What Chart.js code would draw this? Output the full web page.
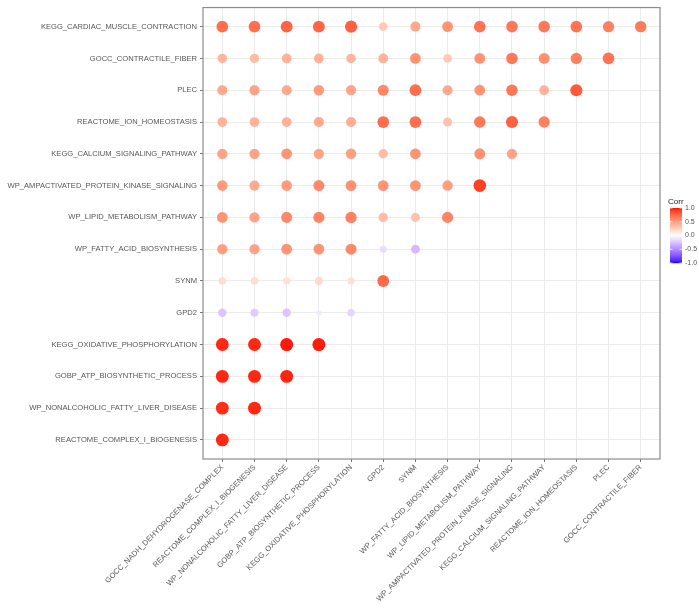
<!DOCTYPE html>
<html lang="en">

<head>
    <meta charset="UTF-8">
    <title>Correlation plot</title>
    <script src="https://cdn.jsdelivr.net/npm/chart.js"></script>
    <style>
        body {
            margin: 0;
            padding: 0;
            background-color: #fff;
        }

        canvas {
            display: block;
        }
    </style>
</head>

<body>
    <canvas id="corrChart" width="699" height="608"></canvas>

    <script>
        // columns, left to right
        const colLabels = [
            'GOCC_NADH_DEHYDROGENASE_COMPLEX',
            'REACTOME_COMPLEX_I_BIOGENESIS',
            'WP_NONALCOHOLIC_FATTY_LIVER_DISEASE',
            'GOBP_ATP_BIOSYNTHETIC_PROCESS',
            'KEGG_OXIDATIVE_PHOSPHORYLATION',
            'GPD2',
            'SYNM',
            'WP_FATTY_ACID_BIOSYNTHESIS',
            'WP_LIPID_METABOLISM_PATHWAY',
            'WP_AMPACTIVATED_PROTEIN_KINASE_SIGNALING',
            'KEGG_CALCIUM_SIGNALING_PATHWAY',
            'REACTOME_ION_HOMEOSTASIS',
            'PLEC',
            'GOCC_CONTRACTILE_FIBER'
        ];

        // rows, top to bottom
        const rowLabels = [
            'KEGG_CARDIAC_MUSCLE_CONTRACTION',
            'GOCC_CONTRACTILE_FIBER',
            'PLEC',
            'REACTOME_ION_HOMEOSTASIS',
            'KEGG_CALCIUM_SIGNALING_PATHWAY',
            'WP_AMPACTIVATED_PROTEIN_KINASE_SIGNALING',
            'WP_LIPID_METABOLISM_PATHWAY',
            'WP_FATTY_ACID_BIOSYNTHESIS',
            'SYNM',
            'GPD2',
            'KEGG_OXIDATIVE_PHOSPHORYLATION',
            'GOBP_ATP_BIOSYNTHETIC_PROCESS',
            'WP_NONALCOHOLIC_FATTY_LIVER_DISEASE',
            'REACTOME_COMPLEX_I_BIOGENESIS'
        ];

        // correlation values per row (same order as rowLabels)
        const cardiacRow = [0.72, 0.72, 0.76, 0.76, 0.78, 0.28, 0.45, 0.55, 0.70, 0.68, 0.68, 0.70, 0.64, 0.66];
        const contractileRow = [0.38, 0.35, 0.40, 0.40, 0.38, 0.40, 0.55, 0.28, 0.55, 0.68, 0.57, 0.64, 0.70];
        const plecRow = [0.45, 0.47, 0.45, 0.52, 0.47, 0.60, 0.72, 0.45, 0.55, 0.68, 0.40, 0.80];
        const ionRow = [0.40, 0.40, 0.40, 0.45, 0.42, 0.72, 0.72, 0.32, 0.68, 0.78, 0.64];
        const calciumRow = [0.48, 0.48, 0.55, 0.48, 0.50, 0.35, 0.55, null, 0.57, 0.48];
        const ampRow = [0.52, 0.45, 0.52, 0.60, 0.57, 0.55, 0.55, 0.50, 0.90];
        const lipidRow = [0.55, 0.48, 0.60, 0.62, 0.64, 0.35, 0.32, 0.62];
        const fattyRow = [0.50, 0.48, 0.55, 0.55, 0.60, -0.15, -0.30];
        const synmRow = [0.18, 0.18, 0.16, 0.20, 0.16, 0.74];
        const gpd2Row = [-0.25, -0.22, -0.25, -0.10, -0.18];
        const oxphosRow = [0.95, 0.95, 0.98, 0.97];
        const atpRow = [0.95, 0.95, 0.96];
        const nafldRow = [0.94, 0.95];
        const complexRow = [0.95];

        const corrRows = [cardiacRow, contractileRow, plecRow, ionRow, calciumRow, ampRow,
            lipidRow, fattyRow, synmRow, gpd2Row, oxphosRow, atpRow, nafldRow, complexRow];

        const legendTicks = [1.0, 0.5, 0.0, -0.5, -1.0];

        // colour helpers: blue - white - red interpolated in Lab, like ggplot's gradient2
        function toLin(c) {
            c /= 255;
            return c <= 0.04045 ? c / 12.92 : Math.pow((c + 0.055) / 1.055, 2.4);
        }

        function fromLin(c) {
            const v = c <= 0.0031308 ? c * 12.92 : 1.055 * Math.pow(c, 1 / 2.4) - 0.055;
            return Math.round(Math.min(1, Math.max(0, v)) * 255);
        }

        function rgbToLab(rgb) {
            const r = toLin(rgb[0]), g = toLin(rgb[1]), b = toLin(rgb[2]);
            let x = (r * 0.4124 + g * 0.3576 + b * 0.1805) / 0.95047;
            let y = (r * 0.2126 + g * 0.7152 + b * 0.0722);
            let z = (r * 0.0193 + g * 0.1192 + b * 0.9505) / 1.08883;
            const f = t => t > 0.008856 ? Math.cbrt(t) : 7.787 * t + 16 / 116;
            x = f(x); y = f(y); z = f(z);
            return [116 * y - 16, 500 * (x - y), 200 * (y - z)];
        }

        function labToRgb(lab) {
            const fy = (lab[0] + 16) / 116;
            const fx = fy + lab[1] / 500;
            const fz = fy - lab[2] / 200;
            const inv = t => t * t * t > 0.008856 ? t * t * t : (t - 16 / 116) / 7.787;
            const x = inv(fx) * 0.95047, y = inv(fy), z = inv(fz) * 1.08883;
            const r = x * 3.2406 + y * -1.5372 + z * -0.4986;
            const g = x * -0.9689 + y * 1.8758 + z * 0.0415;
            const b = x * 0.0557 + y * -0.2040 + z * 1.0570;
            return `rgb(${fromLin(r)},${fromLin(g)},${fromLin(b)})`;
        }

        const labWhite = rgbToLab([255, 255, 255]);
        const labRed = rgbToLab([255, 0, 0]);
        const labBlue = rgbToLab([0, 0, 255]);

        function corrColor(v) {
            const end = v >= 0 ? labRed : labBlue;
            const t = Math.min(1, Math.abs(v));
            return labToRgb(labWhite.map((w, k) => w + (end[k] - w) * t));
        }

        // build points from the arrays
        const points = [];
        corrRows.forEach((row, i) => {
            row.forEach((v, j) => {
                if (v !== null) points.push({ x: j + 1, y: rowLabels.length - i, v: v });
            });
        });

        const absVals = points.map(p => Math.abs(p.v));
        const minAbs = Math.min(...absVals);
        const maxAbs = Math.max(...absVals);

        // area scale, like scale_size(range = c(4, 10))
        function pointRadius(v) {
            const t = (Math.abs(v) - minAbs) / (maxAbs - minAbs);
            return 0.65 * (4 + 6 * Math.sqrt(t));
        }

        const panelAndLegend = {
            id: 'panelAndLegend',
            afterDraw(chart) {
                const ctx = chart.ctx;
                const area = chart.chartArea;
                ctx.save();
                // panel border
                ctx.strokeStyle = '#8c8c8c';
                ctx.lineWidth = 1.2;
                ctx.strokeRect(area.left, area.top, area.right - area.left, area.bottom - area.top);

                // colour bar
                const barX = 670, barTop = 208, barW = 12, barH = 55;
                for (let k = 0; k < barH; k++) {
                    const v = 1 - 2 * (k + 0.5) / barH;
                    ctx.fillStyle = corrColor(v);
                    ctx.fillRect(barX, barTop + k, barW, 1.2);
                }
                ctx.strokeStyle = '#fff';
                ctx.lineWidth = 0.8;
                ctx.fillStyle = '#555';
                ctx.font = '7px "Liberation Sans", Arial, sans-serif';
                ctx.textBaseline = 'middle';
                ctx.textAlign = 'left';
                legendTicks.forEach(v => {
                    const y = barTop + (1 - v) / 2 * barH;
                    ctx.beginPath();
                    ctx.moveTo(barX, y); ctx.lineTo(barX + 2.5, y);
                    ctx.moveTo(barX + barW - 2.5, y); ctx.lineTo(barX + barW, y);
                    ctx.stroke();
                    ctx.fillText(v.toFixed(1), barX + barW + 3, y);
                });
                ctx.fillStyle = '#222';
                ctx.font = '8px "Liberation Sans", Arial, sans-serif';
                ctx.textBaseline = 'alphabetic';
                ctx.fillText('Corr', barX - 2, barTop - 4);
                ctx.restore();
            }
        };

        const tickFont = { family: '"Liberation Sans", Arial, sans-serif', size: 7.6 };

        new Chart(document.getElementById('corrChart'), {
            type: 'scatter',
            data: {
                datasets: [{
                    data: points,
                    pointRadius: ctx => pointRadius(ctx.raw.v),
                    pointHoverRadius: ctx => pointRadius(ctx.raw.v),
                    backgroundColor: ctx => corrColor(ctx.raw.v),
                    borderWidth: 0
                }]
            },
            options: {
                responsive: false,
                animation: false,
                events: [],
                layout: { padding: { left: 0, right: 39, top: 3, bottom: 0 } },
                plugins: {
                    legend: { display: false },
                    tooltip: { enabled: false }
                },
                scales: {
                    x: {
                        type: 'linear',
                        min: 0.4,
                        max: 14.6,
                        afterBuildTicks: scale => {
                            scale.ticks = colLabels.map((_, i) => ({ value: i + 1 }));
                        },
                        afterFit: scale => { scale.height = 149; },
                        ticks: {
                            autoSkip: false,
                            minRotation: 45,
                            maxRotation: 45,
                            padding: 1,
                            color: '#555',
                            font: tickFont,
                            callback: v => colLabels[v - 1]
                        },
                        grid: { color: '#ebebeb', tickColor: '#777', tickLength: 3 },
                        border: { display: false }
                    },
                    y: {
                        type: 'linear',
                        min: 0.4,
                        max: 14.6,
                        afterBuildTicks: scale => {
                            scale.ticks = rowLabels.map((_, i) => ({ value: rowLabels.length - i }));
                        },
                        afterFit: scale => { scale.width = 203; },
                        ticks: {
                            autoSkip: false,
                            padding: 3,
                            color: '#555',
                            font: tickFont,
                            callback: v => rowLabels[rowLabels.length - v]
                        },
                        grid: { color: '#ebebeb', tickColor: '#777', tickLength: 3 },
                        border: { display: false }
                    }
                }
            },
            plugins: [panelAndLegend]
        });
    </script>
</body>

</html>
